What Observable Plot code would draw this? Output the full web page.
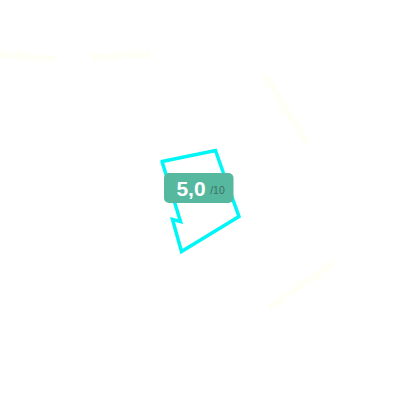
<!DOCTYPE html>
<html><head><meta charset="utf-8">
<style>html,body{margin:0;padding:0;background:#fff}svg{display:block}</style>
<script src="https://cdn.jsdelivr.net/npm/d3@7"></script>
<script src="https://cdn.jsdelivr.net/npm/@observablehq/plot@0.6"></script>
</head><body>
<script>
const outlineX = [161.5, 215, 228, 238.5, 181, 172, 180, 161.5];
const outlineY = [161, 150, 187, 216, 251, 219, 221, 161];
const badgeX = [164, 233.5];
const badgeY = [173, 203];
const streetNames = ["Wolfshoeve", "Vlasdonkhof", "Vijfkampsestraat", "Vaarnakkergraaf"];
const streetX = [28, 120, 286, 300];
const streetY = [56, 55, 108, 285];
const streetAngle = [3, -3, 57, -35];
const scoreText = ["5,0"];
const scaleText = ["/10"];
const outline = outlineX.map((x, i) => ({x, y: outlineY[i]}));
const streets = streetNames.map((name, i) => ({name, x: streetX[i], y: streetY[i], a: streetAngle[i]}));
document.body.append(Plot.plot({
  width: 400, height: 400, margin: 0,
  x: {domain: [0, 400], axis: null},
  y: {domain: [400, 0], axis: null},
  marks: [
    ...streets.map(s => Plot.text([s], {x: "x", y: "y", text: "name", rotate: s.a, fill: "#ffffec", fontSize: 11, fontFamily: "Liberation Sans"})),
    Plot.line(outline, {x: "x", y: "y", stroke: "#00f6f6", strokeWidth: 3.5, strokeLinejoin: "miter", strokeMiterlimit: 10}),
    Plot.rect([0], {x1: () => badgeX[0], x2: () => badgeX[1], y1: () => badgeY[0], y2: () => badgeY[1], fill: "#55b89f", rx: 5}),
    Plot.text(scoreText, {x: [190.5], y: [189], text: d => d, fill: "#fff", fontSize: 21, fontWeight: 700, fontFamily: "Liberation Sans"}),
    Plot.text(scaleText, {x: [217], y: [190], text: d => d, fill: "#3f6f62", fontSize: 10.5, fontFamily: "Liberation Sans"})
  ]
}));
</script>
</body></html>
